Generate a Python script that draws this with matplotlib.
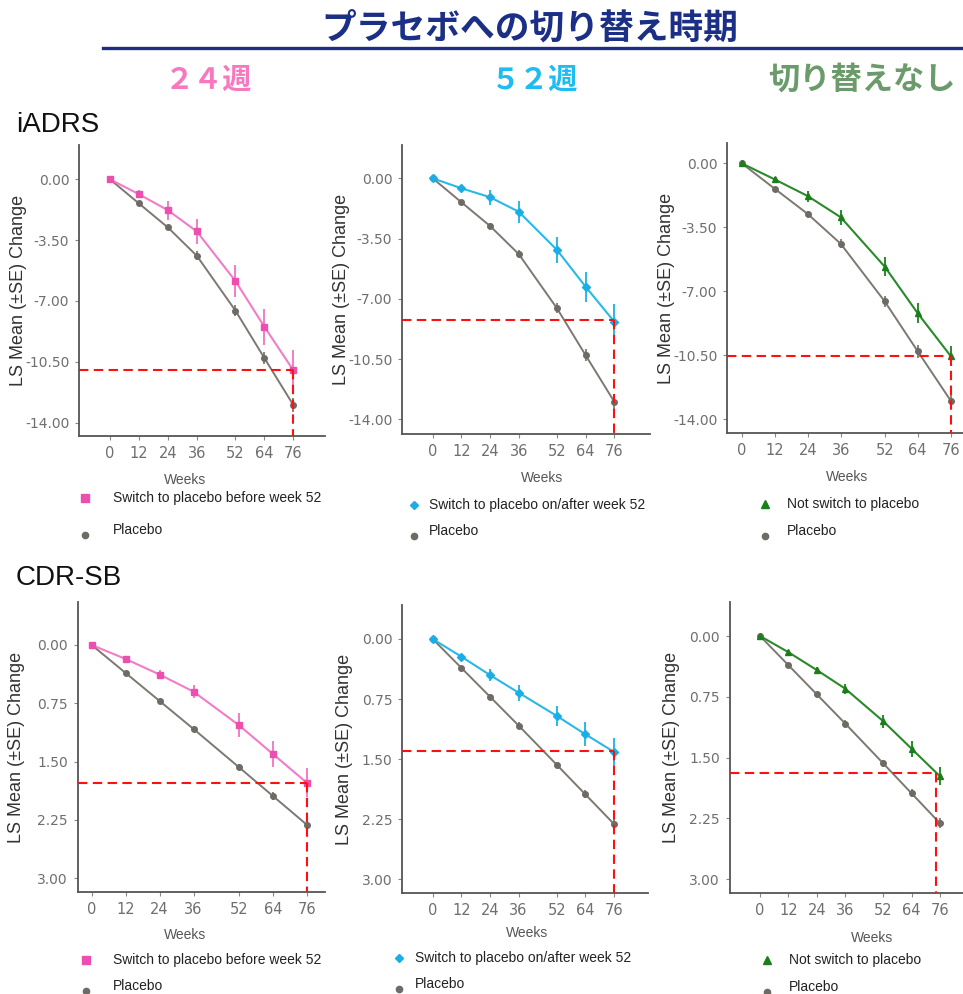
import matplotlib
matplotlib.use("Agg")
import matplotlib.pyplot as plt
from matplotlib.lines import Line2D

# ---------------- data ----------------
weeks = [0, 12, 24, 36, 52, 64, 76]
week_ticks = [0, 12, 24, 36, 52, 64, 76]

iadrs_ticks = [0.0, -3.5, -7.0, -10.5, -14.0]
cdrsb_ticks = [0.0, 0.75, 1.5, 2.25, 3.0]

placebo_iadrs = [0, -1.39, -2.77, -4.40, -7.55, -10.28, -12.98]
placebo_iadrs_se = [0, 0.12, 0.15, 0.25, 0.30, 0.35, 0.40]
switch24_iadrs = [0, -0.86, -1.78, -3.00, -5.85, -8.48, -10.98]
switch24_iadrs_se = [0, 0.22, 0.55, 0.72, 0.92, 1.04, 1.15]
switch52_iadrs = [0, -0.58, -1.10, -1.94, -4.16, -6.30, -8.33]
switch52_iadrs_se = [0, 0.20, 0.44, 0.64, 0.77, 0.87, 1.00]
noswitch_iadrs = [0, -0.88, -1.79, -2.95, -5.65, -8.20, -10.54]
noswitch_iadrs_se = [0, 0.15, 0.30, 0.40, 0.50, 0.55, 0.55]

placebo_cdrsb = [0, 0.36, 0.72, 1.08, 1.57, 1.94, 2.31]
placebo_cdrsb_se = [0, 0.02, 0.03, 0.04, 0.04, 0.05, 0.06]
switch24_cdrsb = [0, 0.18, 0.38, 0.60, 1.03, 1.40, 1.77]
switch24_cdrsb_se = [0, 0.03, 0.06, 0.08, 0.15, 0.17, 0.19]
switch52_cdrsb = [0, 0.22, 0.45, 0.67, 0.96, 1.19, 1.41]
switch52_cdrsb_se = [0, 0.03, 0.07, 0.10, 0.12, 0.15, 0.18]
noswitch_cdrsb = [0, 0.20, 0.42, 0.65, 1.05, 1.39, 1.73]
noswitch_cdrsb_se = [0, 0.03, 0.04, 0.06, 0.08, 0.10, 0.11]

# reference (red dashed) lines: (week, value)
ref_iadrs = [(76, -10.98), (76, -8.25), (76, -10.54)]
ref_cdrsb = [(76, 1.77), (76, 1.40), (74.2, 1.69)]

title = "プラセボへの切り替え時期"
col_titles = ["２４週", "５２週", "切り替えなし"]
row_titles = ["iADRS", "CDR-SB"]
legend_labels = ["Switch to placebo before week 52",
                 "Switch to placebo on/after week 52",
                 "Not switch to placebo"]
placebo_label = "Placebo"
ylabel = "LS Mean (\u00b1SE) Change"
xlabel = "Weeks"

# ---------------- styles ----------------
W, H = 963, 994
NAVY = "#1a2f85"
head_colors = ["#f878c0", "#1ebcf0", "#6b9a6b"]
head_sizes = [21, 21, 22.5]
line_colors = ["#f27cc8", "#2ab8e6", "#2a8a2a"]
mark_colors = ["#ec4fae", "#1aaee6", "#1a7f1a"]
markers = ["s", "D", "^"]
PBO_LINE = "#7d7872"
PBO_MARK = "#6e6a64"
AX_COL = "#555555"
CJK = ["Noto Sans CJK JP", "DejaVu Sans"]

fig = plt.figure(figsize=(W / 100, H / 100), dpi=100)
fig.patch.set_facecolor("white")

def fx(px):
    return px / W

def fy(py):
    return 1 - py / H

# header
fig.text(fx(530), fy(28), title, fontsize=25, fontweight="bold", color=NAVY,
         ha="center", va="center", family=CJK)
fig.add_artist(Line2D([fx(103), fx(963)], [fy(48), fy(48)], color=NAVY, lw=2.4,
                      transform=fig.transFigure))
for cx, t, c, fs in zip([208, 535, 862], col_titles, head_colors, head_sizes):
    fig.text(fx(cx), fy(80), t, fontsize=fs, fontweight="bold", color=c,
             ha="center", va="center", family=CJK)
fig.text(fx(16), fy(125), row_titles[0], fontsize=20, color="#111111",
         ha="left", va="center", family="Liberation Sans")
fig.text(fx(16), fy(578), row_titles[1], fontsize=20, color="#111111",
         ha="left", va="center", family="Liberation Sans")

# panel layout in pixels
layouts = [
    dict(box=(79, 325, 145, 436), xw=(110, 293.3), yt=(179.3, 422.7), tv=(0, -14),
         ylx=19, wk=(185, 480), leg=(85, 112.7, 498, 532)),
    dict(box=(402, 650, 145, 434), xw=(432.7, 614.3), yt=(178.3, 419.3), tv=(0, -14),
         ylx=341, wk=(541.7, 478), leg=(414.3, 429.3, 505, 533)),
    dict(box=(727, 963, 143, 433.5), xw=(741.7, 950.7), yt=(163.3, 419.3), tv=(0, -14),
         ylx=666, wk=(846.7, 477), leg=(765, 786.7, 504, 533)),
    dict(box=(77.5, 325, 602, 892), xw=(91.7, 306.7), yt=(645, 878.3), tv=(0, 3),
         ylx=17, wk=(185, 935), leg=(86, 113.3, 960, 988)),
    dict(box=(402, 648, 605, 893), xw=(432.7, 614), yt=(639, 879.3), tv=(0, 3),
         ylx=344, wk=(526.7, 933.3), leg=(399, 415, 958, 986)),
    dict(box=(729.5, 963, 602, 893), xw=(760, 940), yt=(636, 879.3), tv=(0, 3),
         ylx=671, wk=(871.7, 938.3), leg=(766.7, 789.3, 960, 989)),
]

series = [
    (switch24_iadrs, switch24_iadrs_se, placebo_iadrs, placebo_iadrs_se, ref_iadrs[0]),
    (switch52_iadrs, switch52_iadrs_se, placebo_iadrs, placebo_iadrs_se, ref_iadrs[1]),
    (noswitch_iadrs, noswitch_iadrs_se, placebo_iadrs, placebo_iadrs_se, ref_iadrs[2]),
    (switch24_cdrsb, switch24_cdrsb_se, placebo_cdrsb, placebo_cdrsb_se, ref_cdrsb[0]),
    (switch52_cdrsb, switch52_cdrsb_se, placebo_cdrsb, placebo_cdrsb_se, ref_cdrsb[1]),
    (noswitch_cdrsb, noswitch_cdrsb_se, placebo_cdrsb, placebo_cdrsb_se, ref_cdrsb[2]),
]

for i, (lay, (y, ye, py, pye, ref)) in enumerate(zip(layouts, series)):
    col = i % 3
    x0, x1, yt, yb = lay["box"]
    ax = fig.add_axes([fx(x0), fy(yb), (x1 - x0) / W, (yb - yt) / H])
    p0, p76 = lay["xw"]
    sx = 76 / (p76 - p0)
    ax.set_xlim((x0 - p0) * sx, (x1 - p0) * sx)
    ta, tb = lay["yt"]
    va, vb = lay["tv"]
    sy = (vb - va) / (tb - ta)
    top = va + (yt - ta) * sy
    bot = va + (yb - ta) * sy
    ax.set_ylim(bot, top)

    ax.errorbar(weeks, py, yerr=pye, color=PBO_LINE, lw=1.4, elinewidth=1.3,
                marker="o", ms=4, mfc=PBO_MARK, mec=PBO_MARK, capsize=0, zorder=3)
    ax.errorbar(weeks, y, yerr=ye, color=line_colors[col], lw=1.5, elinewidth=1.4,
                marker=markers[col], ms=4.5 if col != 1 else 4, mfc=mark_colors[col],
                mec=mark_colors[col], ecolor=line_colors[col], capsize=0, zorder=4)

    rx, rv = ref
    xl = ax.get_xlim()
    yl = ax.get_ylim()
    ax.plot([xl[0], rx], [rv, rv], color="#ff1010", lw=1.5, ls=(0, (4.5, 2.6)),
            zorder=5, clip_on=False)
    ax.plot([rx, rx], [rv, yl[0]], color="#ff1010", lw=1.5, ls=(0, (4.5, 2.6)),
            zorder=5, clip_on=False)
    ax.set_xlim(xl)
    ax.set_ylim(yl)

    ax.set_xticks(week_ticks)
    ax.set_xticklabels([str(w) for w in week_ticks])
    yt_vals = iadrs_ticks if i < 3 else cdrsb_ticks
    ax.set_yticks(yt_vals)
    ax.set_yticklabels([f"{v:.2f}" for v in yt_vals])
    ax.tick_params(axis="x", length=3, width=0.8, color="#888888",
                   labelsize=10.5, labelcolor="#6f6f6f", pad=4)
    ax.tick_params(axis="y", length=3, width=0.8, color="#888888",
                   labelsize=10, labelcolor="#6f6f6f", pad=4)
    for s in ["top", "right"]:
        ax.spines[s].set_visible(False)
    for s in ["left", "bottom"]:
        ax.spines[s].set_color(AX_COL)
        ax.spines[s].set_linewidth(1.3)
    ax.set_facecolor("white")

    ax.set_ylabel(ylabel, fontsize=13, color="#333333", family="Liberation Sans")
    ax.yaxis.set_label_coords((lay["ylx"] - x0) / (x1 - x0), 0.5)
    ax.yaxis.label.set_va("center")
    ax.set_xlabel(xlabel, fontsize=10, color="#555555", family="Liberation Sans")
    ax.xaxis.set_label_coords((lay["wk"][0] - x0) / (x1 - x0),
                              1 - (lay["wk"][1] - yt) / (yb - yt))
    ax.xaxis.label.set_va("center")

    # legend rows
    mx, tx, r1, r2 = lay["leg"]
    fig.add_artist(Line2D([fx(mx)], [fy(r1)], marker=markers[col], ms=5.5 if col != 1 else 4.5,
                          color=mark_colors[col], ls="none", transform=fig.transFigure))
    fig.text(fx(tx), fy(r1), legend_labels[col], fontsize=10, color="#222222",
             ha="left", va="center", family="Liberation Sans")
    fig.add_artist(Line2D([fx(mx)], [fy(r2 + 3)], marker="o", ms=4.5,
                          color=PBO_MARK, ls="none", transform=fig.transFigure))
    fig.text(fx(tx), fy(r2 - 2), placebo_label, fontsize=10, color="#222222",
             ha="left", va="center", family="Liberation Sans")

fig.savefig("out.png", dpi=100, facecolor="white")
